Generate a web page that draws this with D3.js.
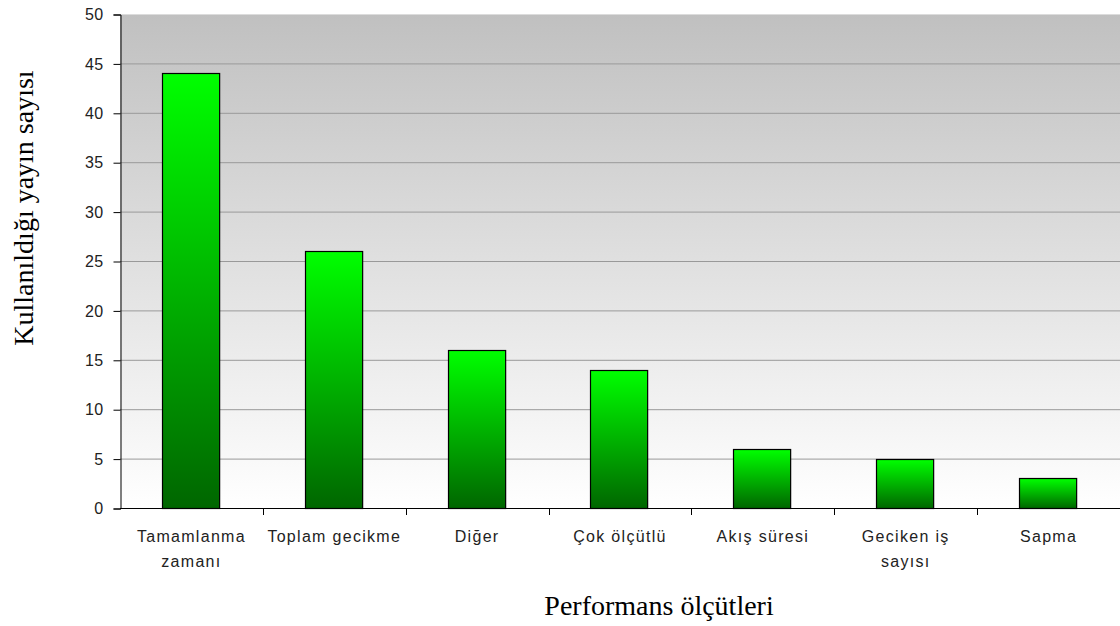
<!DOCTYPE html>
<html>
<head>
<meta charset="utf-8">
<script src="https://cdn.jsdelivr.net/npm/d3@7"></script>
<style>
  html, body { margin: 0; padding: 0; background: #fff; }
  svg { display: block; }
</style>
</head>
<body>
<svg id="chart" width="1120" height="626"></svg>
<script>
// Performance criteria and number of publications using each
const categories = [
  ["Tamamlanma", "zamanı"],
  ["Toplam gecikme"],
  ["Diğer"],
  ["Çok ölçütlü"],
  ["Akış süresi"],
  ["Geciken iş", "sayısı"],
  ["Sapma"]
];
const values = [44, 26, 16, 14, 6, 5, 3];
const yTicks = [0, 5, 10, 15, 20, 25, 30, 35, 40, 45, 50];
const yTitle = "Kullanıldığı yayın sayısı";
const xTitle = "Performans ölçütleri";

const svg = d3.select("#chart");
const plot = { left: 120, top: 14, right: 1120, bottom: 508 };
const sans = "'Liberation Sans', Arial, sans-serif";
const serif = "'Liberation Serif', 'Times New Roman', serif";

const x = d3.scaleBand()
  .domain(d3.range(categories.length))
  .range([plot.left, plot.right])
  .paddingInner(0.6)
  .paddingOuter(0.3);
const step = (plot.right - plot.left) / categories.length;

const y = d3.scaleLinear().domain([0, 50]).range([plot.bottom, plot.top]);

const defs = svg.append("defs");
const bg = defs.append("linearGradient").attr("id", "bg")
  .attr("x1", 0).attr("y1", 0).attr("x2", 0).attr("y2", 1);
bg.append("stop").attr("offset", "0%").attr("stop-color", "#c0c0c0");
bg.append("stop").attr("offset", "100%").attr("stop-color", "#ffffff");

const barGrad = defs.append("linearGradient").attr("id", "bar")
  .attr("x1", 0).attr("y1", 0).attr("x2", 0).attr("y2", 1);
barGrad.append("stop").attr("offset", "0%").attr("stop-color", "#00ff00");
barGrad.append("stop").attr("offset", "100%").attr("stop-color", "#006600");

// plot background
svg.append("rect")
  .attr("x", plot.left).attr("y", plot.top)
  .attr("width", plot.right - plot.left).attr("height", plot.bottom - plot.top)
  .attr("fill", "url(#bg)");

// gridlines
svg.append("g").selectAll("line")
  .data(yTicks.filter(d => d > 0))
  .join("line")
  .attr("x1", plot.left).attr("x2", plot.right)
  .attr("y1", d => y(d) + 0.5).attr("y2", d => y(d) + 0.5)
  .attr("stroke", d => d === 50 ? "#dcdcdc" : "#999999")
  .attr("stroke-width", 1);

// bars
svg.append("g").selectAll("rect")
  .data(values)
  .join("rect")
  .attr("x", (d, i) => Math.round(x(i)) - 0.5)
  .attr("y", d => Math.round(y(d)) + 0.5)
  .attr("width", x.bandwidth())
  .attr("height", d => plot.bottom - Math.round(y(d)))
  .attr("fill", "url(#bar)")
  .attr("stroke", "#000")
  .attr("stroke-width", 1.2);

// y axis
const yAxis = d3.axisLeft(y).tickValues(yTicks).tickSize(7).tickPadding(10);
const gy = svg.append("g").attr("transform", `translate(${plot.left + 0.5},0.5)`).call(yAxis);
gy.select(".domain").attr("stroke", "#000");
gy.selectAll(".tick line").attr("stroke", "#000");
gy.selectAll(".tick text")
  .attr("font-family", sans)
  .attr("font-size", 16).attr("letter-spacing", 0.4).attr("fill", "#222");

// x axis line and category separators
svg.append("line")
  .attr("x1", plot.left).attr("x2", plot.right)
  .attr("y1", plot.bottom + 0.5).attr("y2", plot.bottom + 0.5)
  .attr("stroke", "#000");
svg.append("g").selectAll("line")
  .data(d3.range(1, categories.length + 1))
  .join("line")
  .attr("x1", i => Math.round(plot.left + i * step) + 0.5)
  .attr("x2", i => Math.round(plot.left + i * step) + 0.5)
  .attr("y1", plot.bottom).attr("y2", plot.bottom + 7)
  .attr("stroke", "#000");

// category labels
const labels = svg.append("g")
  .attr("font-family", sans)
  .attr("font-size", 16).attr("letter-spacing", 1.3)
  .attr("fill", "#222").attr("text-anchor", "middle");
categories.forEach((lines, i) => {
  const cx = x(i) + x.bandwidth() / 2;
  const t = labels.append("text").attr("x", cx).attr("y", 542);
  lines.forEach((l, k) => {
    t.append("tspan").attr("x", cx).attr("dy", k === 0 ? 0 : 25).text(l);
  });
});

// axis titles
svg.append("text")
  .attr("x", 659).attr("y", 615)
  .attr("text-anchor", "middle")
  .attr("font-family", serif)
  .attr("font-size", 28).attr("fill", "#000")
  .text(xTitle);

svg.append("text")
  .attr("transform", "translate(33,208) rotate(-90)")
  .attr("text-anchor", "middle")
  .attr("font-family", serif)
  .attr("font-size", 28).attr("fill", "#000")
  .text(yTitle);
</script>
</body>
</html>
